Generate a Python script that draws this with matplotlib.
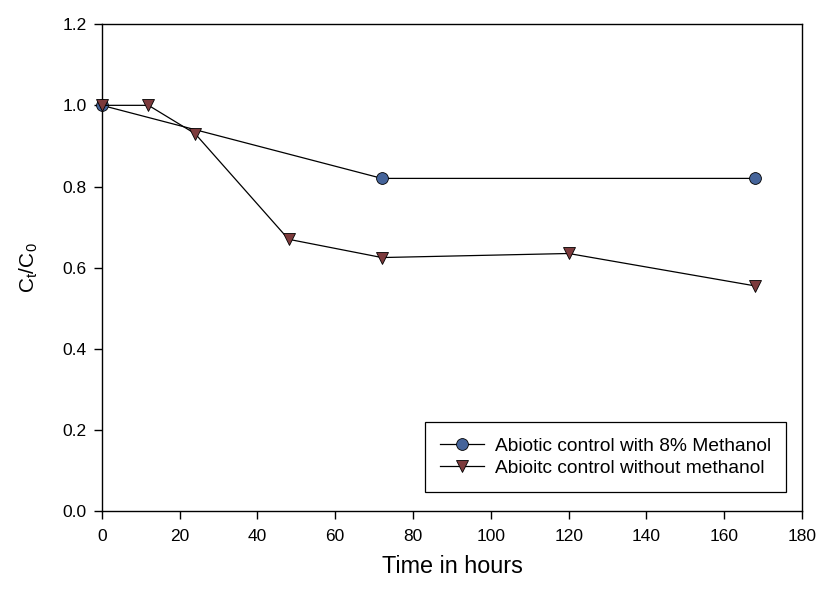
import matplotlib
matplotlib.use("Agg")
import matplotlib.pyplot as plt

plt.rcParams['font.family'] = ['Liberation Sans', 'DejaVu Sans']

t_meth = [0, 72, 168]
c_meth = [1.0, 0.82, 0.82]
t_nometh = [0, 12, 24, 48, 72, 120, 168]
c_nometh = [1.0, 1.0, 0.93, 0.67, 0.625, 0.635, 0.555]
xticks = [0, 20, 40, 60, 80, 100, 120, 140, 160, 180]
yticks = [0.0, 0.2, 0.4, 0.6, 0.8, 1.0, 1.2]

fig = plt.figure(figsize=(8.21, 5.89), dpi=100)
ax = fig.add_axes([0.124, 0.132, 0.853, 0.827])

ax.plot(t_meth, c_meth, '-o', color='black', lw=0.9, markerfacecolor='#45649a',
        markeredgecolor='black', markeredgewidth=0.6, ms=8.5, clip_on=False, zorder=3,
        label='Abiotic control with 8% Methanol')
ax.plot(t_nometh, c_nometh, '-v', color='black', lw=0.9, markerfacecolor='#7c3a3c',
        markeredgecolor='black', markeredgewidth=0.6, ms=8.5, clip_on=False, zorder=3,
        label='Abioitc control without methanol')

ax.set_xlim(0, 180)
ax.set_ylim(0, 1.2)
ax.set_xticks(xticks)
ax.set_yticks(yticks)
ax.set_yticklabels([f"{v:.1f}" for v in yticks])
ax.tick_params(direction='out', length=6, width=1, labelsize=12.5, pad=5)
ax.tick_params(axis='x', pad=7)
for s in ax.spines.values():
    s.set_linewidth(1)

ax.set_xlabel('Time in hours', fontsize=16.8, labelpad=8)
ax.set_ylabel(r'C$_\mathregular{t}$/C$_\mathregular{0}$', fontsize=15, labelpad=16)

leg = ax.legend(loc='lower right', bbox_to_anchor=(0.977, 0.039), fontsize=13.8,
                frameon=True, fancybox=False, edgecolor='black', framealpha=1,
                handlelength=2.3, borderpad=0.8, labelspacing=0.25, handletextpad=0.55,
                borderaxespad=0)
leg.get_frame().set_linewidth(0.9)

fig.savefig('out.png', dpi=100)
